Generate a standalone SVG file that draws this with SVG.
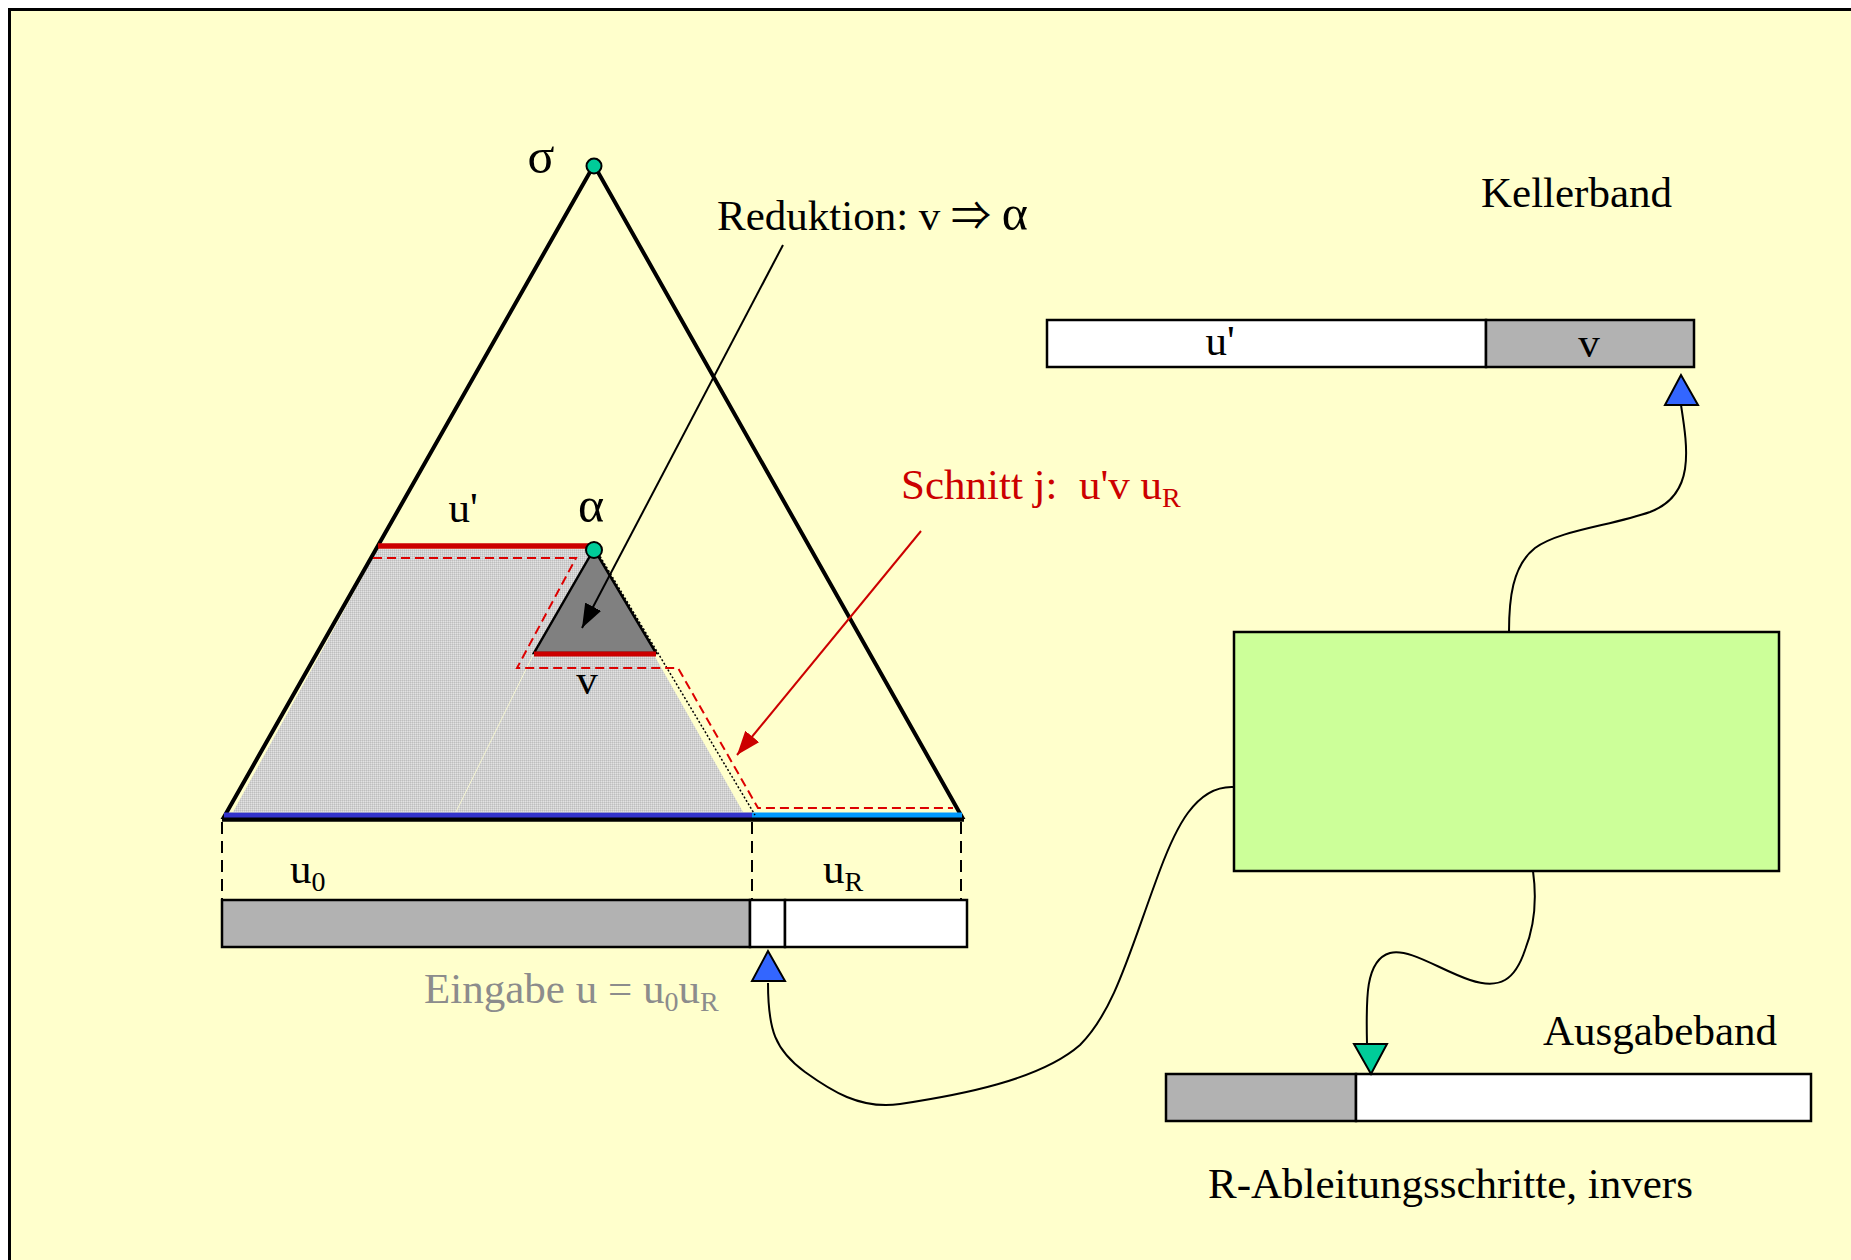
<svg xmlns="http://www.w3.org/2000/svg" width="1851" height="1260" viewBox="0 0 1851 1260">
<style>
  text { font-family: "Liberation Serif", "DejaVu Serif", serif; font-size: 43px; fill: #000; }
  .red { fill: #CC0000; }
  .grey { fill: #8C8C8C; }
  .sub { font-size: 28px; }
  .greek { font-size: 50px; }
  .band { stroke: #000; stroke-width: 2.5; }
  .wire { fill: none; stroke: #000; stroke-width: 2; }
  .dash { fill: none; stroke: #000; stroke-width: 2; stroke-dasharray: 12 7; }
  .dot { fill: #00CC99; stroke: #000; stroke-width: 2; }
</style>
<defs>
  <pattern id="grain" width="2" height="2" patternUnits="userSpaceOnUse">
    <rect width="2" height="2" fill="#D0D0D0"/>
    <rect width="1" height="1" fill="#BEBEBE"/>
    <rect x="1" y="1" width="1" height="1" fill="#E2E2E2"/>
  </pattern>
  <marker id="arrBlack" viewBox="0 0 24 18" refX="24" refY="9" markerWidth="24" markerHeight="18" markerUnits="userSpaceOnUse" orient="auto">
    <path d="M0,0 L24,9 L0,18 z" fill="#000"/>
  </marker>
  <marker id="arrRed" viewBox="0 0 24 18" refX="24" refY="9" markerWidth="24" markerHeight="18" markerUnits="userSpaceOnUse" orient="auto">
    <path d="M0,0 L24,9 L0,18 z" fill="#CC0000"/>
  </marker>
</defs>

<rect width="1851" height="1260" fill="#FFFFFF"/>
<rect id="frame" x="9.5" y="9.5" width="1900" height="1300" fill="#FFFFCC" stroke="#000" stroke-width="3"/>

<g id="derivation-tree">
  <polygon points="233,812 378,549 594,549 743,812" fill="url(#grain)"/>
  <line x1="534" y1="653" x2="456" y2="812" stroke="#F4F4D0" stroke-width="1"/>
  <polygon points="594,165 224,817 962,817" fill="none" stroke="#000" stroke-width="4" stroke-linejoin="miter"/>
  <line x1="222" y1="820" x2="964" y2="820" stroke="#000" stroke-width="3.5"/>
  <line x1="224" y1="815" x2="752" y2="815" stroke="#3333CC" stroke-width="5"/>
  <line x1="752" y1="815" x2="962" y2="815" stroke="#0099FF" stroke-width="5"/>
  <line x1="598" y1="553" x2="755" y2="815" stroke="#000" stroke-width="1.5" stroke-dasharray="2 2"/>
  <polygon points="594,549 534,653 656,653" fill="#808080" stroke="#000" stroke-width="2.5"/>
  <line x1="378" y1="546" x2="592" y2="546" stroke="#CC0000" stroke-width="5.5"/>
  <line x1="534" y1="654" x2="656" y2="654" stroke="#CC0000" stroke-width="5"/>
  <path d="M373,558 L576,558 L517,668 L678,668 L758,808 L953,808" fill="none" stroke="#DD0000" stroke-width="2" stroke-dasharray="9 5"/>
  <circle class="dot" cx="594" cy="166" r="7.5"/>
  <circle class="dot" cx="594" cy="550" r="8"/>
  <text class="greek" x="541" y="173" text-anchor="middle">σ</text>
  <text x="463" y="522" text-anchor="middle">u'</text>
  <text class="greek" x="591" y="522" text-anchor="middle">α</text>
  <text x="587" y="694" text-anchor="middle">v</text>
</g>

<g id="input-band">
  <line class="dash" x1="222" y1="822" x2="222" y2="900"/>
  <line class="dash" x1="752" y1="822" x2="752" y2="900"/>
  <line class="dash" x1="961" y1="822" x2="961" y2="900"/>
  <text x="290" y="883">u<tspan class="sub" dy="8">0</tspan></text>
  <text x="823" y="883">u<tspan class="sub" dy="8">R</tspan></text>
  <rect class="band" x="222" y="900" width="528" height="47" fill="#B2B2B2"/>
  <rect class="band" x="750" y="900" width="35" height="47" fill="#FFFFFF"/>
  <rect class="band" x="785" y="900" width="182" height="47" fill="#FFFFFF"/>
  <polygon points="768,951 752,981 785,981" fill="#3366FF" stroke="#000" stroke-width="2"/>
  <text class="grey" x="424" y="1003">Eingabe u = u<tspan class="sub" dy="8">0</tspan><tspan dy="-8">u</tspan><tspan class="sub" dy="8">R</tspan></text>
</g>

<g id="keller-band">
  <text x="1481" y="207">Kellerband</text>
  <rect class="band" x="1047" y="320" width="439" height="47" fill="#FFFFFF"/>
  <rect class="band" x="1486" y="320" width="208" height="47" fill="#B2B2B2"/>
  <text x="1220" y="355" text-anchor="middle">u'</text>
  <text x="1589" y="357" text-anchor="middle">v</text>
  <polygon points="1681,375 1665,405 1698,405" fill="#3366FF" stroke="#000" stroke-width="2"/>
</g>

<g id="control-unit">
  <rect x="1234" y="632" width="545" height="239" fill="#CCFF99" stroke="#000" stroke-width="2.5"/>
</g>

<g id="output-band">
  <text x="1543" y="1045">Ausgabeband</text>
  <rect class="band" x="1166" y="1074" width="190" height="47" fill="#B2B2B2"/>
  <rect class="band" x="1356" y="1074" width="455" height="47" fill="#FFFFFF"/>
  <polygon points="1354,1044 1387,1044 1371,1074" fill="#00CC99" stroke="#000" stroke-width="2"/>
  <text x="1208" y="1198">R-Ableitungsschritte, invers</text>
</g>

<g id="annotations">
  <text x="717" y="230">Reduktion: v <tspan font-family="'Noto Sans CJK SC', 'DejaVu Serif', serif" font-size="40">⇒</tspan> <tspan class="greek">α</tspan></text>
  <text class="red" x="901" y="499" style="white-space:pre">Schnitt j:  u'v u<tspan class="sub" dy="8">R</tspan></text>
</g>

<g id="connectors">
  <line x1="783" y1="245" x2="582" y2="628" stroke="#000" stroke-width="2" marker-end="url(#arrBlack)"/>
  <line x1="921" y1="531" x2="737" y2="755" stroke="#CC0000" stroke-width="2" marker-end="url(#arrRed)"/>
  <path class="wire" d="M1681,405 C1688,450 1695,495 1650,512 C1610,526 1560,530 1535,548 C1512,566 1509,600 1509,632"/>
  <path class="wire" d="M1234,787 C1195,785 1175,830 1160,870 C1130,950 1115,1010 1080,1045 C1040,1080 960,1095 900,1104 C860,1110 830,1090 805,1072 C775,1050 768,1030 768,983"/>
  <path class="wire" d="M1533,871 C1537,900 1535,925 1525,950 C1515,980 1500,990 1470,980 C1440,970 1410,948 1390,953 C1365,960 1366,1000 1367,1044"/>
</g>
</svg>
